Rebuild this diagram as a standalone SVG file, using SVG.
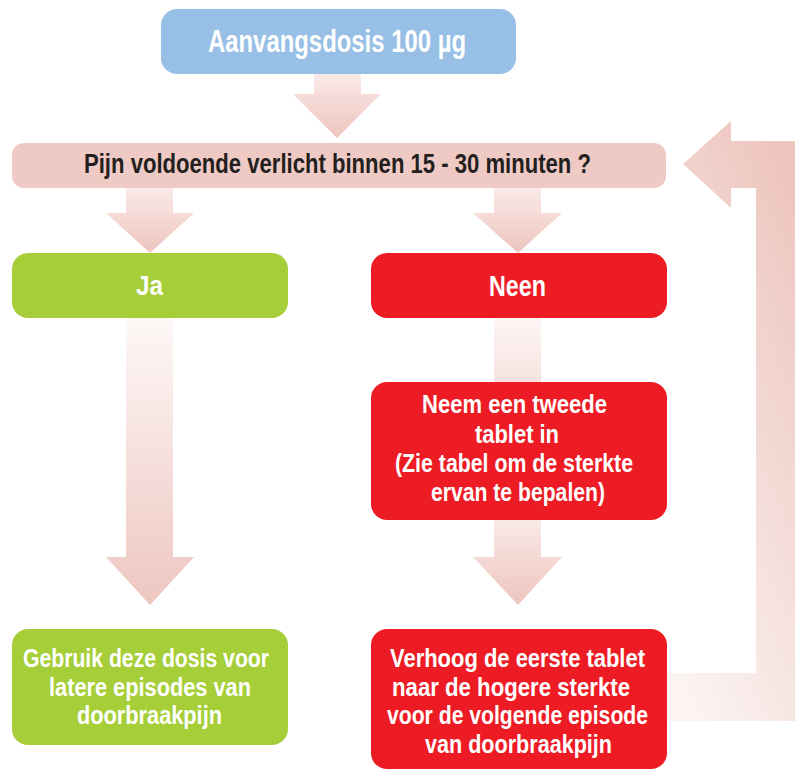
<svg xmlns="http://www.w3.org/2000/svg" width="795" height="771" viewBox="0 0 795 771">
<style>
.box{stroke:none}
.t{font-family:"Liberation Sans",Arial,sans-serif;font-weight:bold;fill:#ffffff}
.q{fill:#231f20}
</style>
<defs>
<linearGradient id="gShort" x1="0" y1="0" x2="0" y2="1">
<stop offset="0" stop-color="#faeae8"/>
<stop offset="1" stop-color="#eec4be"/>
</linearGradient>
<linearGradient id="gLong" x1="0" y1="0" x2="0" y2="1">
<stop offset="0" stop-color="#fdf8f7"/>
<stop offset="1" stop-color="#eec6c0"/>
</linearGradient>
<linearGradient id="gStub" x1="0" y1="0" x2="0" y2="1">
<stop offset="0" stop-color="#fcf5f4"/>
<stop offset="1" stop-color="#f7e3e0"/>
</linearGradient>
<linearGradient id="gBack" x1="0.7" y1="0" x2="0.2" y2="1">
<stop offset="0" stop-color="#eec6bf"/>
<stop offset="0.55" stop-color="#f5e0dc"/>
<stop offset="1" stop-color="#fcf5f4"/>
</linearGradient>
</defs>

<g id="connectors">
<path d="M314,74 H361 V94 H381 L337,138 L293,94 H314 Z" fill="url(#gShort)"/>
<path d="M126,188 H173 V213 H194 L150,253 L106,213 H126 Z" fill="url(#gShort)"/>
<path d="M494,188 H541 V213 H562 L518,253 L473,213 H494 Z" fill="url(#gShort)"/>
<path d="M126,318 H173 V557 H194 L150,605 L106,557 H126 Z" fill="url(#gLong)"/>
<path d="M494,318 H541 V384 H494 Z" fill="url(#gStub)"/>
<path d="M494,518 H541 V557 H562 L518,605 L473,557 H494 Z" fill="url(#gShort)"/>
<path d="M683,164 L731,121 V141 H800 V721 H660 V673 H756 V188 H731 V208 Z" fill="url(#gBack)"/>
</g>

<g id="start">
<rect class="box" x="161" y="9" width="355" height="65" rx="16" fill="#98bfe5"/>
<text class="t" x="208" y="52" font-size="32" textLength="258" lengthAdjust="spacingAndGlyphs">Aanvangsdosis 100 µg</text>
</g>

<g id="question">
<rect class="box" x="12" y="143" width="654" height="45" rx="12" fill="#efc9c4"/>
<text class="t q" x="84" y="173" font-size="27" textLength="507" lengthAdjust="spacingAndGlyphs">Pijn voldoende verlicht binnen 15 - 30 minuten ?</text>
</g>

<g id="ja">
<rect class="box" x="12" y="253" width="276" height="65" rx="16" fill="#a6ce39"/>
<text class="t" x="136" y="295" font-size="28" textLength="27" lengthAdjust="spacingAndGlyphs">Ja</text>
</g>

<g id="neen">
<rect class="box" x="371" y="253" width="296" height="65" rx="16" fill="#ed1c24"/>
<text class="t" x="489" y="296" font-size="29" textLength="57" lengthAdjust="spacingAndGlyphs">Neen</text>
</g>

<g id="tweede">
<rect class="box" x="371" y="382" width="296" height="138" rx="16" fill="#ed1c24"/>
<text class="t" font-size="25.5">
<tspan x="422" y="413" textLength="185" lengthAdjust="spacingAndGlyphs">Neem een tweede</tspan>
<tspan x="475" y="443" textLength="84" lengthAdjust="spacingAndGlyphs">tablet in</tspan>
<tspan x="395" y="472" textLength="238" lengthAdjust="spacingAndGlyphs">(Zie tabel om de sterkte</tspan>
<tspan x="431" y="501" textLength="174" lengthAdjust="spacingAndGlyphs">ervan te bepalen)</tspan>
</text>
</g>

<g id="gebruik">
<rect class="box" x="12" y="629" width="276" height="116" rx="16" fill="#a6ce39"/>
<text class="t" font-size="25.5">
<tspan x="23" y="667" textLength="246" lengthAdjust="spacingAndGlyphs">Gebruik deze dosis voor</tspan>
<tspan x="49" y="696" textLength="202" lengthAdjust="spacingAndGlyphs">latere episodes van</tspan>
<tspan x="77" y="724" textLength="145" lengthAdjust="spacingAndGlyphs">doorbraakpijn</tspan>
</text>
</g>

<g id="verhoog">
<rect class="box" x="371" y="629" width="296" height="140" rx="16" fill="#ed1c24"/>
<text class="t" font-size="25.5">
<tspan x="390" y="667" textLength="255" lengthAdjust="spacingAndGlyphs">Verhoog de eerste tablet</tspan>
<tspan x="392" y="696" textLength="238" lengthAdjust="spacingAndGlyphs">naar de hogere sterkte</tspan>
<tspan x="387" y="724" textLength="261" lengthAdjust="spacingAndGlyphs">voor de volgende episode</tspan>
<tspan x="425" y="753" textLength="187" lengthAdjust="spacingAndGlyphs">van doorbraakpijn</tspan>
</text>
</g>
</svg>
